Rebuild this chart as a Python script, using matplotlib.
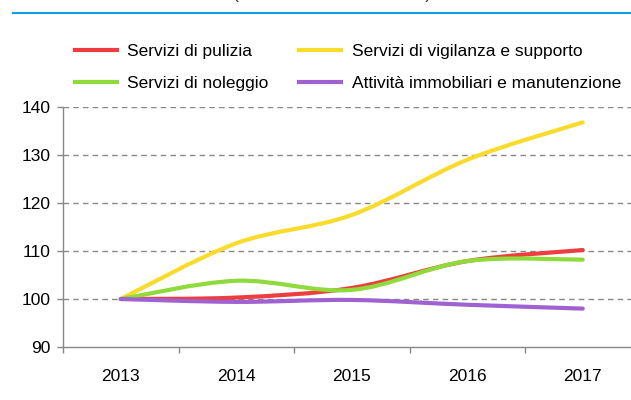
import numpy as np
import matplotlib.pyplot as plt
from matplotlib.path import Path
from matplotlib.patches import PathPatch
from matplotlib.lines import Line2D

plt.rcParams['font.family'] = ['Liberation Sans', 'DejaVu Sans']

years = ['2013', '2014', '2015', '2016', '2017']
pulizia = [100, 100.3, 102.3, 107.9, 110.2]
vigilanza = [100, 111.6, 117.5, 129.0, 136.8]
noleggio = [100, 103.8, 101.9, 107.9, 108.2]
immobiliari = [100, 99.4, 99.8, 98.8, 98.0]

series = [
    ('Servizi di pulizia', pulizia, '#ee3d3f'),
    ('Servizi di vigilanza e supporto', vigilanza, '#f9dc2b'),
    ('Servizi di noleggio', noleggio, '#8fdb3c'),
    ('Attività immobiliari e manutenzione', immobiliari, '#a062d0'),
]


def smooth_path(x, y, t=1/6):
    # catmull-rom like bezier through the points (excel "smoothed line")
    x = np.asarray(x, float)
    y = np.asarray(y, float)
    px = np.concatenate([[x[0]], x, [x[-1]]])
    py = np.concatenate([[y[0]], y, [y[-1]]])
    verts = [(x[0], y[0])]
    codes = [Path.MOVETO]
    for i in range(1, len(x)):
        c1 = (px[i] + (px[i + 1] - px[i - 1]) * t, py[i] + (py[i + 1] - py[i - 1]) * t)
        c2 = (px[i + 1] - (px[i + 2] - px[i]) * t, py[i + 1] - (py[i + 2] - py[i]) * t)
        verts += [c1, c2, (x[i], y[i])]
        codes += [Path.CURVE4] * 3
    return Path(verts, codes)


fig = plt.figure(figsize=(6.31, 4.00), dpi=100)
ax = fig.add_axes([63/631, 53/400, 577.5/631, 240/400])

xs = np.arange(len(years))
handles = []
for name, vals, col in series:
    p = PathPatch(smooth_path(xs, vals), facecolor='none', edgecolor=col,
                  lw=3, capstyle='round', joinstyle='round', zorder=3)
    ax.add_patch(p)
    handles.append(Line2D([], [], color=col, lw=3, label=name))

ax.set_xlim(-0.5, 4.5)
ax.set_ylim(90, 140)
ax.set_yticks([90, 100, 110, 120, 130, 140])
ax.set_xticks(xs)
ax.set_xticklabels(years)
ax.set_xticks(np.arange(-0.5, 5, 1), minor=True)
ax.tick_params(axis='x', which='major', length=0, pad=16, labelsize=12.5)
ax.tick_params(axis='x', which='minor', length=4, color='#888888', width=1)
ax.tick_params(axis='y', length=4, color='#888888', width=1, pad=5, labelsize=12.5)

for v in [100, 110, 120, 130, 140]:
    ax.axhline(v, color='#888888', lw=1, ls=(0, (4, 3)), zorder=1)

for s in ['top', 'right']:
    ax.spines[s].set_visible(False)
for s in ['left', 'bottom']:
    ax.spines[s].set_color('#888888')
    ax.spines[s].set_linewidth(1)

fig.legend(handles=[handles[0], handles[2], handles[1], handles[3]],
           labels=[series[0][0], series[2][0], series[1][0], series[3][0]],
           ncol=2, loc='upper left', bbox_to_anchor=(75/631, 1 - 44/400),
           frameon=False, fontsize=12.5, handlelength=2.4, handletextpad=0.62,
           columnspacing=1.75, labelspacing=0.95, borderpad=0, borderaxespad=0)

# top rule and cropped subtitle
fig.add_artist(Line2D([13/631, 1], [1 - 13/400, 1 - 13/400], color='#14a0e0', lw=1.5))
fig.text(233/631, 1 + 1.5/400, '(numeri indice 2013=100)', fontsize=12.5,
         ha='left', va='baseline', color='#333333')

fig.savefig('out.png', dpi=100)
